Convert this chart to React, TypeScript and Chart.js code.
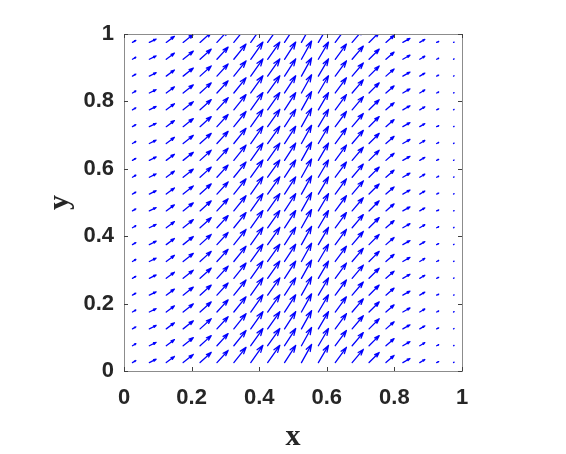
import React, { useEffect, useRef } from "react";
import { Chart, registerables } from "chart.js";

Chart.register(...registerables);

// Grid of arrow tails (data units)
const xPositions = [0.025, 0.075, 0.125, 0.175, 0.225, 0.275, 0.325, 0.375, 0.425, 0.475, 0.525, 0.575, 0.625, 0.675, 0.725, 0.775, 0.825, 0.875, 0.925, 0.975];
const yPositions = [0.025, 0.075, 0.125, 0.175, 0.225, 0.275, 0.325, 0.375, 0.425, 0.475, 0.525, 0.575, 0.625, 0.675, 0.725, 0.775, 0.825, 0.875, 0.925, 0.975];
// Arrow components per column (the field is the same in every row), data units
const uByColumn = [0.010, 0.020, 0.024, 0.030, 0.033, 0.033, 0.036, 0.036, 0.036, 0.033, 0.030, 0.030, 0.033, 0.033, 0.030, 0.024, 0.021, 0.015, 0.006, 0.0015];
const vByColumn = [0.006, 0.010, 0.018, 0.024, 0.030, 0.036, 0.045, 0.051, 0.051, 0.051, 0.054, 0.051, 0.045, 0.039, 0.030, 0.021, 0.012, 0.009, 0.003, 0.001];
const xTicks = [0, 0.2, 0.4, 0.6, 0.8, 1];
const yTicks = [0, 0.2, 0.4, 0.6, 0.8, 1];
const xLabel = "x";
const yLabel = "y";

const ARROW_COLOR = "#0000ff";
const FRAME_COLOR = "#8c8c8c";
const TEXT_COLOR = "#262626";

const quiverPlugin = {
  id: "quiver",
  afterDatasetsDraw(chart: any) {
    const xs = chart.scales.x;
    const ys = chart.scales.y;
    const ctx = chart.ctx;
    const area = chart.chartArea;
    ctx.save();
    ctx.beginPath();
    ctx.rect(area.left, area.top, area.right - area.left, area.bottom - area.top);
    ctx.clip();
    ctx.strokeStyle = ARROW_COLOR;
    ctx.lineWidth = 1.3;
    ctx.lineCap = "round";
    ctx.lineJoin = "round";
    const data = chart.data.datasets[0].data as any[];
    for (const p of data) {
      const x0 = xs.getPixelForValue(p.x);
      const y0 = ys.getPixelForValue(p.y);
      const x1 = xs.getPixelForValue(p.x + p.u);
      const y1 = ys.getPixelForValue(p.y + p.v);
      const dx = x1 - x0;
      const dy = y1 - y0;
      const alpha = 0.33;
      const beta = 0.33;
      ctx.beginPath();
      ctx.moveTo(x0, y0);
      ctx.lineTo(x1, y1);
      ctx.moveTo(x1 - alpha * (dx + beta * dy), y1 - alpha * (dy - beta * dx));
      ctx.lineTo(x1, y1);
      ctx.lineTo(x1 - alpha * (dx - beta * dy), y1 - alpha * (dy + beta * dx));
      ctx.stroke();
    }
    ctx.restore();
  },
};

const framePlugin = {
  id: "frame",
  afterDraw(chart: any) {
    const ctx = chart.ctx;
    const a = chart.chartArea;
    const xs = chart.scales.x;
    const ys = chart.scales.y;
    ctx.save();
    ctx.strokeStyle = FRAME_COLOR;
    ctx.lineWidth = 1;
    ctx.strokeRect(Math.round(a.left) + 0.5, Math.round(a.top) + 0.5, Math.round(a.right - a.left), Math.round(a.bottom - a.top));
    ctx.strokeStyle = "#404040";
    const tl = 4;
    ctx.beginPath();
    for (const t of xTicks) {
      const px = Math.round(xs.getPixelForValue(t)) + 0.5;
      ctx.moveTo(px, a.bottom);
      ctx.lineTo(px, a.bottom - tl);
      ctx.moveTo(px, a.top);
      ctx.lineTo(px, a.top + tl);
    }
    for (const t of yTicks) {
      const py = Math.round(ys.getPixelForValue(t)) + 0.5;
      ctx.moveTo(a.left, py);
      ctx.lineTo(a.left + tl, py);
      ctx.moveTo(a.right, py);
      ctx.lineTo(a.right - tl, py);
    }
    ctx.stroke();
    ctx.restore();
  },
};

const fmt = (v: number) => String(+Number(v).toFixed(2));

export default function App() {
  const canvasRef = useRef<HTMLCanvasElement | null>(null);

  useEffect(() => {
    if (!canvasRef.current) return;
    const points: any[] = [];
    yPositions.forEach((y) => {
      xPositions.forEach((x, i) => {
        points.push({ x, y, u: uByColumn[i], v: vByColumn[i] });
      });
    });
    const tickFont = { family: "'Liberation Sans', Arial, sans-serif", weight: "bold" as const, size: 22 };
    const titleFont = { family: "'Liberation Serif', 'Times New Roman', serif", weight: "bold" as const, size: 30, lineHeight: 1 };
    const chart = new Chart(canvasRef.current, {
      type: "scatter",
      data: {
        datasets: [
          {
            data: points,
            pointRadius: 0,
            pointHoverRadius: 0,
            showLine: false,
          },
        ],
      },
      options: {
        animation: false,
        responsive: true,
        maintainAspectRatio: false,
        events: [],
        layout: { padding: { left: 0, top: 34, right: 104, bottom: 0 } },
        plugins: { legend: { display: false }, tooltip: { enabled: false } },
        scales: {
          x: {
            type: "linear",
            min: 0,
            max: 1,
            afterBuildTicks: (s: any) => {
              s.ticks = xTicks.map((v) => ({ value: v }));
            },
            afterFit: (s: any) => {
              s.height = 83;
            },
            grid: { display: false, drawTicks: false },
            border: { display: false },
            ticks: { color: TEXT_COLOR, font: tickFont, padding: 14, callback: (v: any) => fmt(v), maxRotation: 0, autoSkip: false },
            title: { display: true, text: xLabel, color: TEXT_COLOR, font: titleFont, padding: { top: 0, bottom: 2 } },
          },
          y: {
            type: "linear",
            min: 0,
            max: 1,
            afterBuildTicks: (s: any) => {
              s.ticks = yTicks.map((v) => ({ value: v }));
            },
            afterFit: (s: any) => {
              s.width = 124;
            },
            grid: { display: false, drawTicks: false },
            border: { display: false },
            ticks: { color: TEXT_COLOR, font: tickFont, padding: 10, callback: (v: any) => fmt(v), autoSkip: false },
            title: { display: true, text: yLabel, color: TEXT_COLOR, font: titleFont, padding: { top: 45, bottom: 0 } },
          },
        },
      },
      plugins: [quiverPlugin, framePlugin],
    });
    return () => chart.destroy();
  }, []);

  return (
    <div style={{ position: "fixed", left: 0, top: 0, width: 566, height: 454, background: "#fff" }}>
      <canvas ref={canvasRef} />
    </div>
  );
}
